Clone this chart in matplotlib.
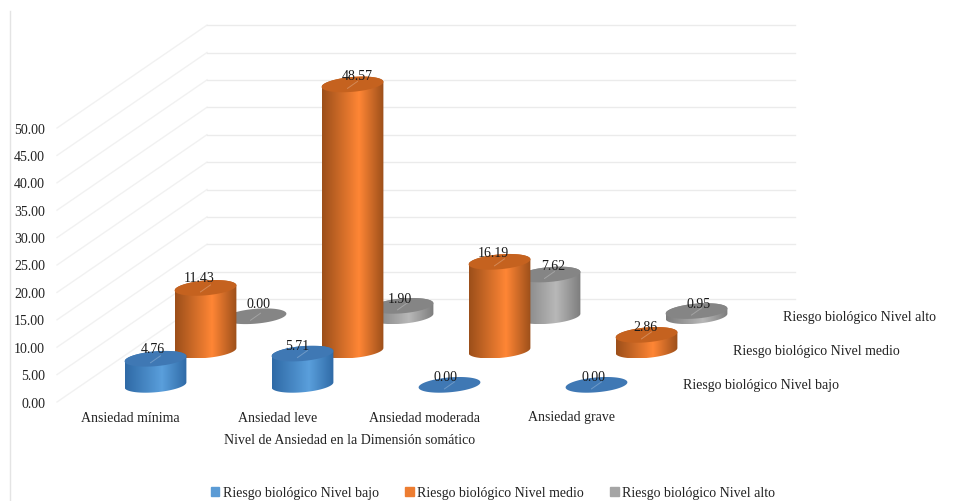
import numpy as np
import matplotlib
matplotlib.use("Agg")
import matplotlib.pyplot as plt
from matplotlib.colors import LinearSegmentedColormap
from matplotlib.patches import Patch, Polygon

plt.rcParams['font.family'] = ['Liberation Serif', 'DejaVu Serif']

categories = ["Ansiedad mínima", "Ansiedad leve", "Ansiedad moderada", "Ansiedad grave"]
series_names = ["Riesgo biológico Nivel bajo", "Riesgo biológico Nivel medio", "Riesgo biológico Nivel alto"]
nivel_bajo = [4.76, 5.71, 0.00, 0.00]
nivel_medio = [11.43, 48.57, 16.19, 2.86]
nivel_alto = [0.00, 1.90, 7.62, 0.95]
y_ticks = [0, 5, 10, 15, 20, 25, 30, 35, 40, 45, 50]

# edge shade, highlight, lid colour for each series
palette = [
    ("#2f6aa6", "#5a9fdc", "#3f78b4"),
    ("#9c4f1a", "#ff8635", "#c5621f"),
    ("#7d7d7d", "#b8b8b8", "#858585"),
]
legend_colors = ["#5b9bd5", "#ed7d31", "#a5a5a5"]

# oblique projection of the 3D chart box
ORIGIN_X, ORIGIN_Y = 57, 402
CAT_STEP = 147
DEPTH_DX, DEPTH_DY = 50, 34.3
UNIT = 5.48
RX, RY = 31, 7.4
TILT = np.radians(5)

# hand placement of the data labels around each lid (dx, dy), by series then category
label_nudge = [
    [(-3, -10), (-5, -8), (-4, -8), (-3, -8)],
    [(-6, -10), (5, -9), (-6, -9), (-1, -8)],
    [(3, -13), (-3, -7), (4, -9), (2, -8)],
]


def project(cat, value, depth):
    return ORIGIN_X + CAT_STEP * cat + DEPTH_DX * depth, ORIGIN_Y - UNIT * value - DEPTH_DY * depth


def ellipse_arc(cx, cy, t):
    x = cx + RX * np.cos(t) * np.cos(TILT) + RY * np.sin(t) * np.sin(TILT)
    y = cy - RX * np.cos(t) * np.sin(TILT) + RY * np.sin(t) * np.cos(TILT)
    return np.column_stack([x, y])


def draw_cylinder(ax, cat, depth, value, colors, zorder):
    edge, light, lid = colors
    cx, base_y = project(cat, 0, depth)
    _, top_y = project(cat, value, depth)
    t_right = np.arctan2(RY * np.sin(TILT), RX * np.cos(TILT))

    if value > 0:
        lower = ellipse_arc(cx, base_y, np.linspace(t_right, t_right + np.pi, 60))
        upper = ellipse_arc(cx, top_y, np.linspace(t_right + np.pi, t_right + 2 * np.pi, 60))
        outline = np.vstack([lower, upper])
        # side shading peaks a little right of centre
        shade = LinearSegmentedColormap.from_list("side", [(0, edge), (0.6, light), (1, edge)], N=256)
        im = ax.imshow(np.linspace(0, 1, 128)[None, :], cmap=shade, aspect='auto',
                       extent=(outline[:, 0].min(), outline[:, 0].max(), outline[:, 1].max(), outline[:, 1].min()),
                       interpolation='bilinear', zorder=zorder)
        clip = Polygon(outline, closed=True, transform=ax.transData, fc='none', ec='none')
        ax.add_patch(clip)
        im.set_clip_path(clip)

    lid_pts = ellipse_arc(cx, top_y, np.linspace(0, 2 * np.pi, 120))
    ax.fill(lid_pts[:, 0], lid_pts[:, 1], color=lid, lw=0, zorder=zorder + 0.1)
    # faint leader from the lid to the data label
    ax.plot([cx - 5, cx + 5], [top_y + 4, top_y - 3], color='white', alpha=0.25, lw=0.7, zorder=zorder + 0.2)


fig = plt.figure(figsize=(9.59, 5.01), dpi=100)
ax = fig.add_axes([0, 0, 1, 1])
ax.set_xlim(0, 959)
ax.set_ylim(501, 0)
ax.axis('off')

# chart frame, only the left edge shows
ax.plot([10, 10], [11, 501], color='#e4e4e4', lw=1)

# side wall and back wall gridlines
for v in y_ticks:
    x0, y0 = project(0, v, 0)
    x1, y1 = project(0, v, 3)
    x2, y2 = project(len(categories), v, 3)
    ax.plot([x0, x1], [y0, y1], color='#f1f1f1', lw=1, zorder=1)
    ax.plot([x1, x2], [y1, y2], color='#ebebeb', lw=1, zorder=1)
    ax.text(45, y0 + 2, f"{v:.2f}", ha='right', va='center', fontsize=10, color='#222222')

all_series = [nivel_bajo, nivel_medio, nivel_alto]

# back series first so nearer cylinders cover them
for s in reversed(range(len(all_series))):
    for c, value in enumerate(all_series[s]):
        draw_cylinder(ax, c + 0.5, s + 0.5, value, palette[s], zorder=5 + (2 - s))

for s, values in enumerate(all_series):
    for c, value in enumerate(values):
        x, y = project(c + 0.5, value, s + 0.5)
        dx, dy = label_nudge[s][c]
        ax.text(x + dx, y + dy + 1, f"{value:.2f}", ha='center', va='center', fontsize=10, color='#1a1a1a', zorder=12)

for c, name in enumerate(categories):
    x, _ = project(c + 0.5, 0, 0)
    ax.text(x, 418, name, ha='center', va='center', fontsize=10, color='#222222')

ax.text(350, 440, "Nivel de Ansiedad en la Dimensión somático", ha='center', va='center',
        fontsize=10, color='#222222')

# depth axis labels next to the last category
for s, name in enumerate(series_names):
    x, y = project(len(categories), 0, s + 0.5)
    ax.text(x + 13, y + 1, name, ha='left', va='center', fontsize=10, color='#222222')

handles = [Patch(color=col, label=name) for col, name in zip(legend_colors, series_names)]
ax.legend(handles=handles, ncol=3, loc='center', bbox_to_anchor=(493, 493), bbox_transform=ax.transData,
          frameon=False, fontsize=10, handlelength=0.6, handleheight=0.6, handletextpad=0.25,
          columnspacing=1.9, labelcolor='#222222', borderpad=0, borderaxespad=0)

fig.savefig("out.png", dpi=100)
